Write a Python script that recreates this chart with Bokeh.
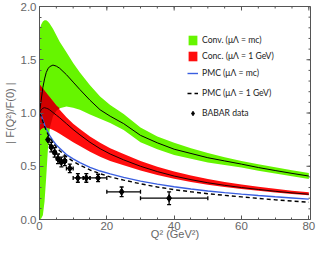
import numpy as np
from bokeh.plotting import figure
from bokeh.models import (ColumnDataSource, FixedTicker, PrintfTickFormatter,
                          Legend, LegendItem, Whisker, TeeHead, Range1d)
from bokeh.embed import file_html
from bokeh.resources import INLINE

# ---------------- data ----------------
q2 = [0, 0.5, 1, 1.5, 2, 2.5, 3, 4, 5, 6, 8, 10, 12, 15, 18, 21, 25, 30, 35, 40, 45, 50, 55, 60, 65, 70, 75, 80]

conv_mc_hi = [1.78, 1.83, 1.86, 1.87, 1.87, 1.86, 1.84, 1.79, 1.73, 1.67, 1.57, 1.47, 1.38, 1.26, 1.155, 1.075, 0.99, 0.865, 0.78, 0.72, 0.67, 0.625, 0.585, 0.55, 0.518, 0.49, 0.463, 0.437]
conv_mc_mid = [1.0, 1.12, 1.24, 1.32, 1.38, 1.415, 1.435, 1.45, 1.44, 1.42, 1.36, 1.29, 1.22, 1.12, 1.03, 0.97, 0.90, 0.79, 0.72, 0.66, 0.62, 0.58, 0.55, 0.52, 0.488, 0.46, 0.433, 0.408]
conv_mc_lo = [0.0, 0.01, 0.04, 0.17, 0.40, 0.66, 0.84, 0.97, 1.02, 1.045, 1.06, 1.05, 1.03, 0.985, 0.945, 0.905, 0.84, 0.725, 0.66, 0.605, 0.57, 0.535, 0.512, 0.488, 0.458, 0.432, 0.405, 0.38]

conc_1gev_hi = [1.27, 1.25, 1.23, 1.21, 1.19, 1.17, 1.15, 1.11, 1.07, 1.03, 0.96, 0.90, 0.85, 0.78, 0.72, 0.67, 0.615, 0.55, 0.495, 0.45, 0.412, 0.38, 0.352, 0.328, 0.307, 0.288, 0.271, 0.256]
conc_1gev_mid = [1.0, 1.03, 1.045, 1.05, 1.045, 1.04, 1.03, 1.005, 0.98, 0.955, 0.90, 0.845, 0.795, 0.725, 0.665, 0.615, 0.56, 0.50, 0.45, 0.408, 0.374, 0.345, 0.321, 0.30, 0.282, 0.265, 0.25, 0.237]
conc_1gev_lo = [0.83, 0.85, 0.86, 0.865, 0.865, 0.86, 0.855, 0.84, 0.825, 0.805, 0.765, 0.725, 0.69, 0.635, 0.59, 0.55, 0.51, 0.46, 0.418, 0.382, 0.352, 0.327, 0.305, 0.286, 0.269, 0.254, 0.24, 0.227]

pmc_mc = [1.0, 0.98, 0.935, 0.89, 0.85, 0.82, 0.79, 0.74, 0.70, 0.67, 0.61, 0.57, 0.535, 0.49, 0.455, 0.428, 0.395, 0.36, 0.332, 0.307, 0.286, 0.268, 0.252, 0.238, 0.225, 0.213, 0.202, 0.191]
pmc_1gev = [1.0, 0.97, 0.92, 0.875, 0.835, 0.80, 0.77, 0.72, 0.68, 0.645, 0.59, 0.545, 0.51, 0.465, 0.43, 0.40, 0.37, 0.335, 0.305, 0.28, 0.26, 0.242, 0.227, 0.212, 0.198, 0.185, 0.173, 0.162]

babar_q2 = [2.5, 3.5, 4.5, 5.5, 6.5, 7.5, 9.0, 11.4, 13.9, 17.4, 24.4, 38.5]
babar_q2_lo = [2, 3, 4, 5, 6, 7, 8, 10, 13, 15, 20, 30]
babar_q2_hi = [3, 4, 5, 6, 7, 8, 10, 13, 15, 20, 30, 50]
babar_f = [0.75, 0.68, 0.63, 0.57, 0.54, 0.55, 0.48, 0.39, 0.39, 0.39, 0.26, 0.20]
babar_err = [0.045, 0.045, 0.045, 0.045, 0.045, 0.045, 0.04, 0.04, 0.04, 0.035, 0.045, 0.06]

x_ticks = [0, 20, 40, 60, 80]
y_ticks = [0.0, 0.5, 1.0, 1.5, 2.0]
X_END, Y_END = 80.5, 2.0

labels = ["Conv. (μΛ = mc)", "Conc. (μΛ = 1 GeV)", "PMC (μΛ = mc)", "PMC (μΛ = 1 GeV)", "BABAR data"]
x_title = "Q² (GeV²)"
y_title = "| F(Q²)/F(0) |"

# ---------------- figure ----------------
GREEN = "#66f500"
RED = "#ff0d0d"
DARKRED = "#cf0000"
BLUE = "#3a5fe0"
FRAME = "#555555"
TICKTXT = "#666666"

p = figure(width=316, height=242, output_backend="svg", toolbar_location=None,
           x_range=Range1d(0, X_END), y_range=Range1d(0, Y_END),
           min_border_left=0, min_border_right=6, min_border_top=6, min_border_bottom=0)
p.xgrid.visible = False
p.ygrid.visible = False
p.outline_line_color = FRAME
p.background_fill_color = "white"

q = np.array(q2, dtype=float)
g_lo, g_hi = np.array(conv_mc_lo), np.array(conv_mc_hi)
r_lo, r_hi = np.array(conc_1gev_lo), np.array(conc_1gev_hi)
ov_lo = np.maximum(g_lo, r_lo)
ov_hi = np.minimum(g_hi, r_hi)
ov_hi = np.where(ov_hi > ov_lo, ov_hi, ov_lo)

rg = p.varea(x=q, y1=g_lo, y2=g_hi, fill_color=GREEN)
rr = p.varea(x=q, y1=r_lo, y2=r_hi, fill_color=RED)
p.varea(x=q, y1=ov_lo, y2=ov_hi, fill_color=DARKRED)

p.line(q, conv_mc_mid, line_color="black", line_width=1)
p.line(q, conc_1gev_mid, line_color="#1a0000", line_width=1)
rb = p.line(q, pmc_mc, line_color=BLUE, line_width=1.4)
rd = p.line(q, pmc_1gev, line_color="black", line_width=1.4, line_dash="4 3")

src = ColumnDataSource(dict(
    x=babar_q2, y=babar_f,
    xl=babar_q2_lo, xu=babar_q2_hi,
    yl=[f - e for f, e in zip(babar_f, babar_err)],
    yu=[f + e for f, e in zip(babar_f, babar_err)],
))
def tee():
    return TeeHead(size=4, line_color="black", line_width=1.3)
p.add_layout(Whisker(source=src, base="x", lower="yl", upper="yu", dimension="height",
                     line_color="black", line_width=1.3, upper_head=tee(), lower_head=tee()))
p.add_layout(Whisker(source=src, base="y", lower="xl", upper="xu", dimension="width",
                     line_color="black", line_width=1.3, upper_head=tee(), lower_head=tee()))
rs = p.scatter("x", "y", source=src, marker="diamond", size=7, color="black")

# ---------------- axes ----------------
x_minor = list(np.arange(0, 81, 5))
y_minor = list(np.round(np.arange(0, 2.01, 0.1), 2))
xt = FixedTicker(ticks=x_ticks, minor_ticks=x_minor)
yt = FixedTicker(ticks=y_ticks, minor_ticks=y_minor)

def style(ax):
    ax.axis_line_color = FRAME
    ax.major_tick_line_color = FRAME
    ax.minor_tick_line_color = FRAME
    ax.major_tick_in = 4
    ax.major_tick_out = 0
    ax.minor_tick_in = 2
    ax.minor_tick_out = 0
    ax.major_label_text_font = "Liberation Sans"
    ax.major_label_text_font_size = "11.5px"
    ax.major_label_text_color = TICKTXT
    ax.major_label_standoff = 3
    ax.axis_label_text_font = "Liberation Sans"
    ax.axis_label_text_font_size = "11px"
    ax.axis_label_text_font_style = "normal"
    ax.axis_label_text_color = TICKTXT

xa = p.xaxis[0]
xa.ticker = xt
xa.axis_label = x_title
style(xa)
xa.major_label_standoff = 2
xa.axis_label_standoff = -5
xa.axis_label_text_line_height = 0.9
xa.major_label_text_line_height = 0.9
ya = p.yaxis[0]
ya.ticker = yt
ya.formatter = PrintfTickFormatter(format="%.1f")
ya.axis_label = y_title
style(ya)
ya.axis_label_standoff = 2

# inward ticks on the top and right frame edges
p.ray(x=x_ticks, y=[Y_END] * len(x_ticks), length=4, length_units="screen",
      angle=-np.pi / 2, line_color=FRAME, line_width=1)
p.ray(x=x_minor, y=[Y_END] * len(x_minor), length=2, length_units="screen",
      angle=-np.pi / 2, line_color=FRAME, line_width=1)
p.ray(x=[X_END] * len(y_ticks), y=y_ticks, length=4, length_units="screen",
      angle=np.pi, line_color=FRAME, line_width=1)
p.ray(x=[X_END] * len(y_minor), y=y_minor, length=2, length_units="screen",
      angle=np.pi, line_color=FRAME, line_width=1)

# ---------------- legend: one single-row legend per entry ----------------
legend_renderers = [rg, rr, rb, rd, rs]
LEG_X = 148
leg_row_y = [173, 157, 139.6, 119.8, 100]   # screen offsets of each row (layout only)
for lab, rend, ly in zip(labels, legend_renderers, leg_row_y):
    lg = Legend(items=[LegendItem(label=lab, renderers=[rend])], location=(LEG_X, ly))
    lg.background_fill_alpha = 0
    lg.border_line_alpha = 0
    lg.padding = 0
    lg.margin = 0
    lg.spacing = 0
    lg.glyph_width = 11
    lg.glyph_height = 12
    lg.label_standoff = 4
    lg.label_text_font = "Lato"
    lg.label_text_font_size = "8.6px"
    lg.label_text_color = "#222222"
    lg.label_height = 12
    p.add_layout(lg)

open("out.html", "w").write(file_html(p, INLINE))
